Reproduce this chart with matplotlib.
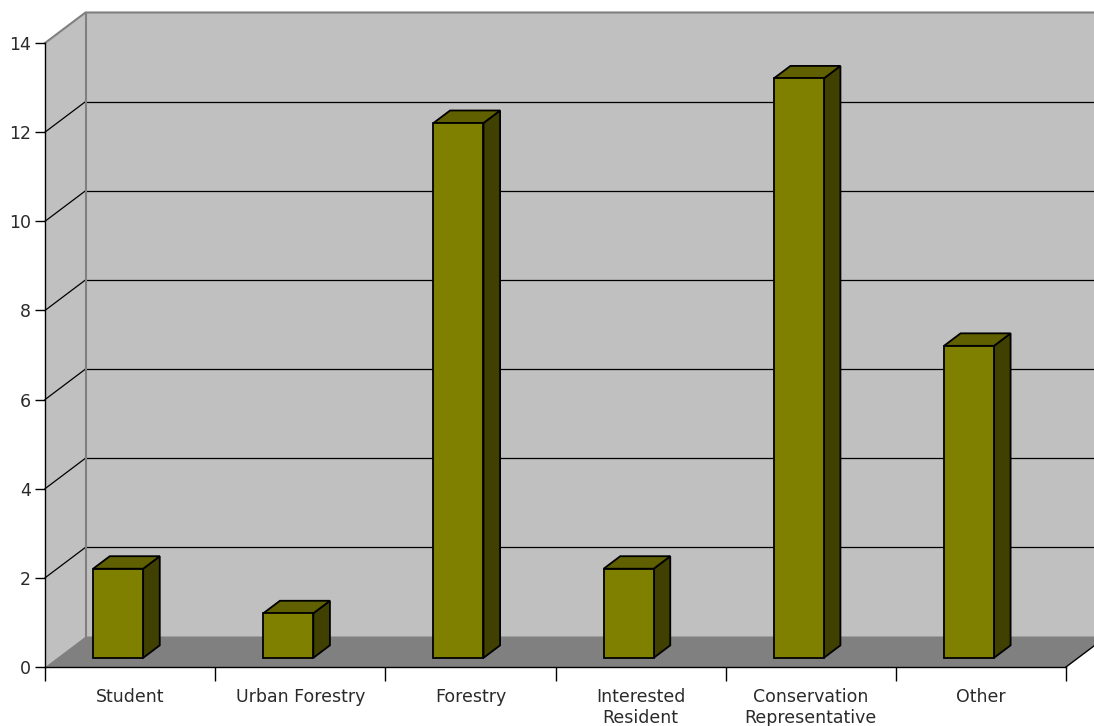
import matplotlib
matplotlib.use("Agg")
import matplotlib.pyplot as plt
from matplotlib.patches import Polygon, Rectangle

categories = ["Student", "Urban Forestry", "Forestry", "Interested\nResident",
              "Conservation\nRepresentative", "Other"]
counts = [2, 1, 12, 2, 13, 7]
y_ticks = [0, 2, 4, 6, 8, 10, 12, 14]

W, H, DPI = 1094, 726, 100
fig = plt.figure(figsize=(W / DPI, H / DPI), dpi=DPI)
fig.patch.set_facecolor("white")

# plot box in pixels (front plane)
left_px, right_px, top_px, bot_px = 45, 1066, 43, 667
ax = fig.add_axes([left_px / W, (H - bot_px) / H,
                   (right_px - left_px) / W, (bot_px - top_px) / H])
ncat = len(categories)
ymax = y_ticks[-1]
ax.set_xlim(0, ncat)
ax.set_ylim(0, ymax)
ax.set_facecolor("none")

# 3d depth (pixels) -> data units
px_x = (right_px - left_px) / ncat
px_y = (bot_px - top_px) / ymax
DX = 40.5 / px_x
DY = 30.5 / px_y


def sh(x, y, f):
    return (x + f * DX, y + f * DY)


# back wall and side wall
ax.add_patch(Rectangle(sh(0, 0, 1), ncat + 1, ymax, facecolor="#c0c0c0",
                       edgecolor="none", clip_on=False, zorder=0))
ax.add_patch(Polygon([(0, 0), (0, ymax), sh(0, ymax, 1), sh(0, 0, 1)],
                     facecolor="#c0c0c0", edgecolor="none", clip_on=False, zorder=0))
# floor
ax.add_patch(Polygon([(0, 0), (ncat, 0), sh(ncat, 0, 1), sh(0, 0, 1)],
                     facecolor="#808080", edgecolor="none", clip_on=False, zorder=0.5))

# gridlines
for yv in y_ticks[1:-1]:
    p0, p1 = (0, yv), sh(0, yv, 1)
    ax.plot([p0[0], p1[0]], [p0[1], p1[1]], color="black", lw=0.9,
            clip_on=False, zorder=1)
    ax.plot([p1[0], ncat + 1], [p1[1], p1[1]], color="black", lw=0.9,
            clip_on=False, zorder=1)
# wall edges (gray)
tl = sh(0, ymax, 1)
bl = sh(0, 0, 1)
ax.plot([0, tl[0], ncat + 1], [ymax, tl[1], tl[1]], color="#808080", lw=1.5,
        clip_on=False, zorder=1)
ax.plot([bl[0], tl[0]], [bl[1], tl[1]], color="#808080", lw=1.5,
        clip_on=False, zorder=1)
# floor right edge
br = sh(ncat, 0, 1)
ax.plot([ncat, br[0]], [0, br[1]], color="black", lw=1.0, clip_on=False, zorder=1)

# bars
f1, f2 = 0.3, 0.71
bar_off = 36 / px_x
bar_w = 50 / px_x
for i, v in enumerate(counts):
    x0 = i + bar_off
    x1 = x0 + bar_w
    ax.add_patch(Polygon([sh(x1, 0, f1), sh(x1, v, f1), sh(x1, v, f2), sh(x1, 0, f2)],
                         facecolor="#404000", edgecolor="black", lw=1.3,
                         joinstyle="miter", clip_on=False, zorder=3))
    ax.add_patch(Polygon([sh(x0, v, f1), sh(x1, v, f1), sh(x1, v, f2), sh(x0, v, f2)],
                         facecolor="#606000", edgecolor="black", lw=1.3,
                         joinstyle="miter", clip_on=False, zorder=3))
    fx, fy = sh(x0, 0, f1)
    ax.add_patch(Rectangle((fx, fy), bar_w, v, facecolor="#808000",
                           edgecolor="black", lw=1.3, joinstyle="miter",
                           clip_on=False, zorder=4))

# axes
for s in ["top", "right"]:
    ax.spines[s].set_visible(False)
for s in ["left", "bottom"]:
    ax.spines[s].set_color("black")
    ax.spines[s].set_linewidth(1.0)
    ax.spines[s].set_zorder(5)

ax.set_yticks(y_ticks)
ax.set_yticklabels([str(t) for t in y_ticks])
ax.tick_params(axis="y", direction="out", length=7, width=1, pad=3,
               labelsize=12.5, labelcolor="#2a2a2a")
ax.set_xticks(range(ncat + 1))
ax.set_xticklabels([])
ax.tick_params(axis="x", which="major", direction="out", length=10, width=1)
ax.set_xticks([i + 0.5 for i in range(ncat)], minor=True)
ax.set_xticklabels(categories, minor=True, fontsize=12.5, color="#2a2a2a",
                   linespacing=1.2, va="top")
ax.tick_params(axis="x", which="minor", length=0, pad=15)

fig.savefig("out.png", dpi=DPI)
